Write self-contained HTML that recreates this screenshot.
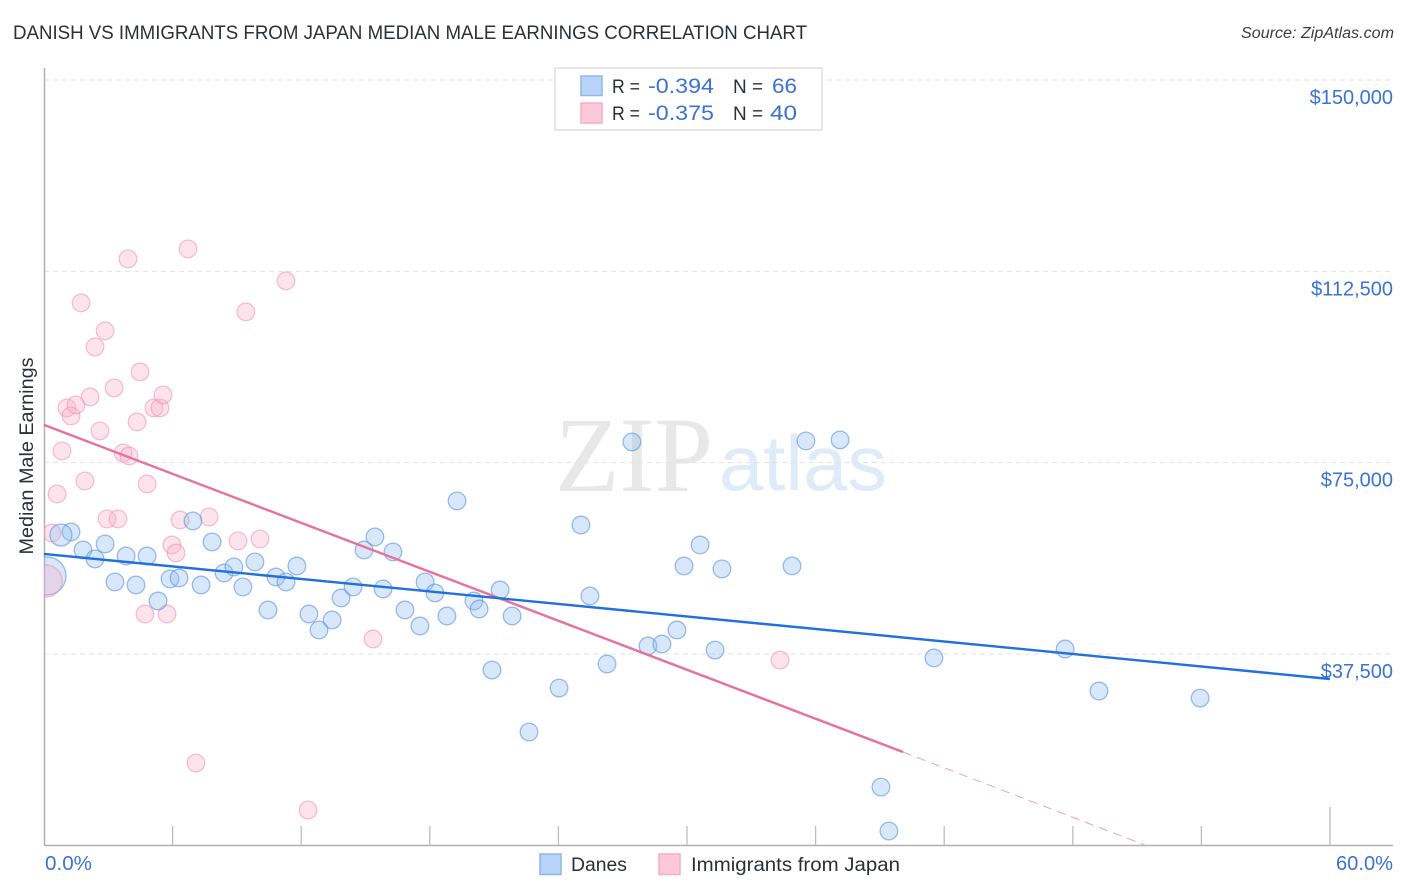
<!DOCTYPE html>
<html lang="en">
<head>
<meta charset="utf-8">
<title>Danish vs Immigrants from Japan Median Male Earnings Correlation Chart</title>
<style>
html,body{margin:0;padding:0;background:#fff;width:1406px;height:892px;overflow:hidden}
svg{display:block;font-family:"Liberation Sans",sans-serif}
</style>
</head>
<body>
<svg id="chart" xmlns="http://www.w3.org/2000/svg" width="1406" height="892" viewBox="0 0 1406 892">
  <defs><clipPath id="plot-clip"><rect x="44" y="60" width="1350" height="785"></rect></clipPath></defs>
  <rect x="0" y="0" width="1406" height="892" fill="#ffffff"></rect>
  <text x="13" y="39" font-size="19.5" fill="#2b2f38" textLength="794" lengthAdjust="spacingAndGlyphs">DANISH VS IMMIGRANTS FROM JAPAN MEDIAN MALE EARNINGS CORRELATION CHART</text>
  <text x="1241" y="38" font-size="15.5" font-style="italic" fill="#3a3d45" textLength="153" lengthAdjust="spacingAndGlyphs">Source: ZipAtlas.com</text>
  <g>
    <text x="555" y="491" font-family="'Liberation Serif',serif" font-size="107" fill="#e8e8e8" textLength="158" lengthAdjust="spacingAndGlyphs">ZIP</text>
    <text x="719" y="490" font-size="78" fill="#e0ebf8" textLength="168" lengthAdjust="spacingAndGlyphs">atlas</text>
  </g>
  <g id="grid"></g>
  <g id="axes"></g>
  <text transform="translate(33,456) rotate(-90)" font-size="19" text-anchor="middle" fill="#2b2f38" textLength="197" lengthAdjust="spacingAndGlyphs">Median Male Earnings</text>
  <g id="pink-points" clip-path="url(#plot-clip)"></g>
  <g id="blue-points" clip-path="url(#plot-clip)"></g>
  <g id="trends"></g>
  <g>
    <rect x="555" y="68" width="267" height="62" fill="#ffffff" stroke="#dddddd" stroke-width="1.5"></rect>
    <rect x="581" y="76" width="21" height="19.5" fill="#b7d3f7" stroke="#8fb7e8" stroke-width="1.5"></rect>
    <rect x="581" y="103" width="21" height="20" fill="#fdc8da" stroke="#f5aec7" stroke-width="1.5"></rect>
    <text x="612" y="93" font-size="19.5" fill="#2b2f38" textLength="28" lengthAdjust="spacingAndGlyphs">R =</text>
    <text x="648" y="93" font-size="21.5" fill="#3b73d1" textLength="66" lengthAdjust="spacingAndGlyphs">-0.394</text>
    <text x="733" y="93" font-size="19.5" fill="#2b2f38" textLength="30" lengthAdjust="spacingAndGlyphs">N =</text>
    <text x="772" y="93" font-size="21.5" fill="#3b73d1" textLength="25" lengthAdjust="spacingAndGlyphs">66</text>
    <text x="612" y="120" font-size="19.5" fill="#2b2f38" textLength="28" lengthAdjust="spacingAndGlyphs">R =</text>
    <text x="648" y="120" font-size="21.5" fill="#3b73d1" textLength="66" lengthAdjust="spacingAndGlyphs">-0.375</text>
    <text x="733" y="120" font-size="19.5" fill="#2b2f38" textLength="30" lengthAdjust="spacingAndGlyphs">N =</text>
    <text x="770" y="120" font-size="21.5" fill="#3b73d1" textLength="27" lengthAdjust="spacingAndGlyphs">40</text>
  </g>
  <g>
    <rect x="540" y="854" width="21" height="20.5" fill="#b7d3f7" stroke="#8fb7e8" stroke-width="1.5"></rect>
    <text x="571" y="871" font-size="19.5" fill="#2b2f38" textLength="56" lengthAdjust="spacingAndGlyphs">Danes</text>
    <rect x="659" y="854" width="21" height="20.5" fill="#fdc8da" stroke="#f5aec7" stroke-width="1.5"></rect>
    <text x="691" y="871" font-size="19.5" fill="#2b2f38" textLength="209" lengthAdjust="spacingAndGlyphs">Immigrants from Japan</text>
  </g>
</svg>
<script>
const yTickValues = [37500, 75000, 112500, 150000];
const yTickLabels = ["$37,500", "$75,000", "$112,500", "$150,000"];
const xTickValues = [6, 12, 18, 24, 30, 36, 42, 48, 54, 60];
const xEdgeLabels = ["0.0%", "60.0%"];

const danesX = [1.26,1.82,2.38,2.85,3.31,3.83,4.29,4.81,5.32,5.88,6.30,6.95,7.33,7.84,8.40,8.86,9.28,9.84,10.45,10.82,11.29,11.80,12.36,12.83,13.44,13.86,14.42,14.93,15.44,15.82,16.28,16.84,17.54,17.78,18.24,18.80,19.27,20.06,20.30,20.90,21.28,21.84,22.63,24.03,25.05,25.47,26.27,27.43,28.18,28.83,29.53,29.86,30.61,31.31,31.63,34.90,35.55,37.14,39.05,39.42,41.52,47.64,49.22,53.94];
const danesY = [61420,57890,56130,59070,51620,56710,51030,56710,47890,52210,52400,63580,51030,59460,53380,54560,50640,55540,46130,52600,51620,54750,45340,42210,44170,48480,50640,57890,60440,50240,57500,46130,42990,51620,49460,44950,67500,47890,46320,34360,50050,44950,22210,30830,62790,48870,35540,79070,39070,39460,42210,54750,58870,38280,54170,54750,79260,79460,11420,2800,36720,38480,30250,28870];
const danesMediumX = [0.79];
const danesMediumY = [60830];
const danesLargeX = [0.14];
const danesLargeY = [52800];

const japanX = [0.37,0.61,0.84,1.07,1.26,1.49,1.91,1.73,2.15,2.38,2.61,2.85,2.94,3.27,3.45,3.69,3.92,3.97,4.34,4.48,4.81,4.71,5.13,5.41,5.55,5.74,5.97,6.16,6.35,6.72,7.09,7.70,9.05,9.42,10.08,11.29,12.32,15.35,34.34];
const japanY = [61220,68870,77300,85730,84160,86320,71420,106320,87890,97690,81220,100830,63970,89650,63970,76910,114950,76320,82990,92790,70830,45340,85730,85730,88280,45340,58870,57300,63770,116910,16130,64360,59660,104560,60050,110630,6910,40440,36320];
const japanLargeX = [0.1];
const japanLargeY = [51800];

const danesTrendX = [0, 60];
const danesTrendY = [57110, 32600];
const japanTrendX = [0, 40.08];
const japanTrendY = [82400, 18290];
const japanDashX = [40.08, 51.4];
const japanDashY = [18290, 0];

const NS = "http://www.w3.org/2000/svg";
function xScale(v) { return 44 + v * (1286 / 60); }
function yScale(v) { return 654 - (v - 37500) * (574 / 112500); }
function make(tag, attrs, parent, text) {
  const el = document.createElementNS(NS, tag);
  for (const k in attrs) el.setAttribute(k, attrs[k]);
  if (text !== undefined) el.textContent = text;
  parent.appendChild(el);
  return el;
}

const grid = document.getElementById("grid");
const axes = document.getElementById("axes");
yTickValues.forEach(function (v, i) {
  const py = yScale(v);
  const line = make("line", {x1: 44, x2: 1393, y1: py, y2: py, stroke: "#e2e2e2", "stroke-width": 1, "stroke-dasharray": "5 4"}, grid);
  
  
  const lab = make("text", {x: 1393, y: py + 24, "text-anchor": "end", "font-size": 20, fill: "#3b73d1"}, axes, yTickLabels[i]);
  
  
});

const yAxis = make("line", {x1: 44.5, x2: 44.5, y1: 68, y2: 845.5, stroke: "#b0b0b0", "stroke-width": 1.5}, axes);


const xAxis = make("line", {x1: 44, x2: 1393, y1: 845.5, y2: 845.5, stroke: "#b0b0b0", "stroke-width": 1.5}, axes);


xTickValues.forEach(function (v, i) {
  const px = xScale(v);
  const isLast = i === xTickValues.length - 1;
  const tick = make("line", {x1: px, x2: px, y1: isLast ? 807 : 826, y2: 845, stroke: "#bdbdbd", "stroke-width": 1.3}, axes);
  
  
});
const xLabelLeft = make("text", {x: 45, y: 870, "font-size": 20, fill: "#3b73d1", textLength: 47, lengthAdjust: "spacingAndGlyphs"}, axes, xEdgeLabels[0]);


const xLabelRight = make("text", {x: 1336, y: 870, "font-size": 20, fill: "#3b73d1", textLength: 57, lengthAdjust: "spacingAndGlyphs"}, axes, xEdgeLabels[1]);



const BLUE = {fill: "rgba(147,190,240,0.36)", stroke: "rgba(90,145,220,0.6)"};
const PINK = {fill: "rgba(248,175,200,0.34)", stroke: "rgba(238,140,175,0.55)"};
const bluePts = document.getElementById("blue-points");
const pinkPts = document.getElementById("pink-points");

japanX.forEach(function (v, i) {
  const c = make("circle", {cx: xScale(v), cy: yScale(japanY[i]), r: 8.8, fill: PINK.fill, stroke: PINK.stroke, "stroke-width": 1.3}, pinkPts);
  
  
});
danesX.forEach(function (v, i) {
  const c = make("circle", {cx: xScale(v), cy: yScale(danesY[i]), r: 8.8, fill: BLUE.fill, stroke: BLUE.stroke, "stroke-width": 1.3}, bluePts);
  
  
});
danesMediumX.forEach(function (v, i) {
  const c = make("circle", {cx: xScale(v), cy: yScale(danesMediumY[i]), r: 11, fill: BLUE.fill, stroke: BLUE.stroke, "stroke-width": 1.3}, bluePts);
  
  
});
danesLargeX.forEach(function (v, i) {
  const c = make("circle", {cx: xScale(v), cy: yScale(danesLargeY[i]), r: 19, fill: BLUE.fill, stroke: BLUE.stroke, "stroke-width": 1.3}, bluePts);
  
  
});
japanLargeX.forEach(function (v, i) {
  const c = make("circle", {cx: xScale(v), cy: yScale(japanLargeY[i]), r: 16, fill: PINK.fill, stroke: PINK.stroke, "stroke-width": 1.3}, bluePts);
  
  
});

const trends = document.getElementById("trends");
const japanTrend = make("line", {x1: xScale(japanTrendX[0]), y1: yScale(japanTrendY[0]), x2: xScale(japanTrendX[1]), y2: yScale(japanTrendY[1]), stroke: "#e8709c", "stroke-width": 2.4}, trends);


const japanDash = make("line", {x1: xScale(japanDashX[0]), y1: yScale(japanDashY[0]), x2: xScale(japanDashX[1]), y2: yScale(japanDashY[1]), stroke: "#f0a0bd", "stroke-width": 1, "stroke-dasharray": "9 6"}, trends);


const danesTrend = make("line", {x1: xScale(danesTrendX[0]), y1: yScale(danesTrendY[0]), x2: xScale(danesTrendX[1]), y2: yScale(danesTrendY[1]), stroke: "#2070dd", "stroke-width": 2.4}, trends);


</script>
</body>
</html>
